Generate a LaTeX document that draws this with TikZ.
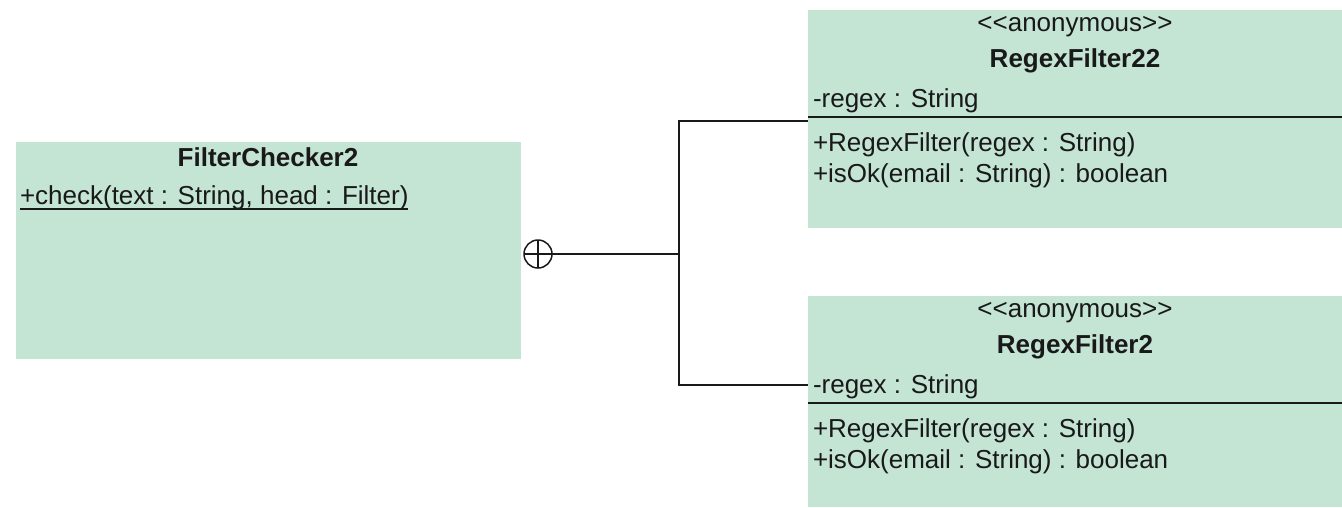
\documentclass[tikz,border=0pt]{standalone}
\usepackage{fontspec}
\setmainfont{Liberation Sans}
\definecolor{classfill}{RGB}{196,228,212}
\definecolor{ink}{RGB}{25,25,25}
\begin{document}
\begin{tikzpicture}[x=1pt,y=-1pt,
  classbox/.style={fill=classfill, draw=none, anchor=north west, inner sep=0pt, outer sep=0pt},
  txt/.style={inner sep=0pt, outer sep=0pt, text=ink, font=\fontsize{26}{30}\selectfont},
  member/.style={txt, anchor=base west},
  stereo/.style={txt, anchor=base},
  classname/.style={txt, anchor=base, font=\fontsize{26}{30}\selectfont\bfseries},
  divider/.style={line width=2pt, ink},
  link/.style={line width=2pt, ink}]
\useasboundingbox (0,0) rectangle (1342,507);

% class FilterChecker2
\node[classbox, minimum width=505pt, minimum height=217pt] (fc) at (16,142) {};
\node[classname] (fcname) at (268,166) {FilterChecker2};
\node[member] (fccheck) at (20,204) {+check(text : String, head : Filter)};
\draw[line width=1.5pt, ink] ([yshift=-5pt]fccheck.base west) -- ([yshift=-5pt]fccheck.base east);

% anonymous class RegexFilter22
\node[classbox, minimum width=534pt, minimum height=218pt] (rfa) at (808,10) {};
\node[stereo] (rfastereo) at (1075,31.5) {<{}<anonymous>{}>};
\node[classname] (rfaname) at (1075,67.5) {RegexFilter22};
\node[member] (rfaattr) at (813,107) {-regex : String};
\draw[divider] (rfa.west |- 0,117) -- (rfa.east |- 0,117);
\node[member] (rfactor) at (813,151.5) {+RegexFilter(regex : String)};
\node[member] (rfaisok) at (813,182.5) {+isOk(email : String) : boolean};

% anonymous class RegexFilter2
\node[classbox, minimum width=534pt, minimum height=211pt] (rfb) at (808,296) {};
\node[stereo] (rfbstereo) at (1075,317.5) {<{}<anonymous>{}>};
\node[classname] (rfbname) at (1075,353.5) {RegexFilter2};
\node[member] (rfbattr) at (813,393) {-regex : String};
\draw[divider] (rfb.west |- 0,403) -- (rfb.east |- 0,403);
\node[member] (rfbctor) at (813,437.5) {+RegexFilter(regex : String)};
\node[member] (rfbisok) at (813,468.5) {+isOk(email : String) : boolean};

% nesting connector
\node[draw=ink, circle, line width=1.5pt, minimum size=28pt, inner sep=0pt, outer sep=0pt] (nest) at (538,254) {};
\draw[line width=1.5pt, ink] (nest.north) -- (nest.south) (nest.west) -- (nest.east);
\coordinate (junction) at (679,254);
\coordinate (upper) at (679,121);
\coordinate (lower) at (679,385);
\draw[link] (nest.east) -- (junction);
\draw[link] (rfa.west |- upper) -- (upper) -- (lower) -- (rfb.west |- lower);
\end{tikzpicture}
\end{document}
